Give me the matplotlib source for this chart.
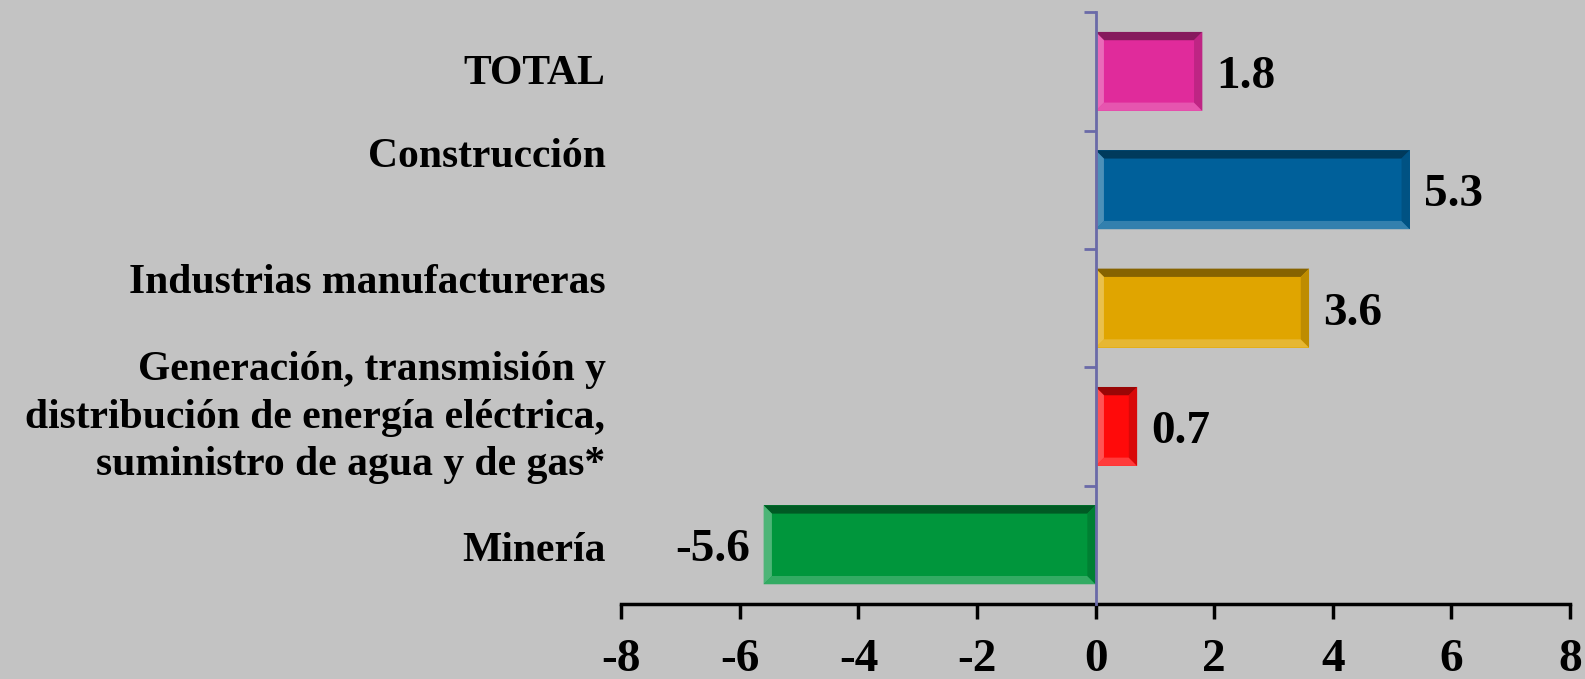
import numpy as np
import matplotlib.pyplot as plt
from matplotlib.patches import Polygon
from matplotlib import transforms
from matplotlib.colors import to_rgb

# Data (bottom to top)
categories = ['Minería',
              'Generación, transmisión y\ndistribución de energía eléctrica,\nsuministro de agua y de gas*',
              'Industrias manufactureras',
              'Construcción',
              'TOTAL']
values = [-5.6, 0.7, 3.6, 5.3, 1.8]
bar_colors = ['#00963C', '#FF0A0A', '#E0A500', '#00609A', '#E02B9B']
label_shift = [-0.055, 0.075, 0.215, 0.275, -0.025]  # category label nudge (data units)
x_ticks = [-8, -6, -4, -2, 0, 2, 4, 6, 8]

bg = '#C3C3C3'
plt.rcParams['font.family'] = ['Liberation Serif', 'DejaVu Serif']
plt.rcParams['font.weight'] = 'bold'


def mix(c, other, t):
    c = np.array(to_rgb(c))
    return tuple(c * (1 - t) + np.array(other) * t)


fig = plt.figure(figsize=(15.85, 6.79), dpi=100, facecolor=bg)
ax = fig.add_axes([0.392, 0.1105, 0.5985, 0.8715])
ax.set_facecolor(bg)

y = np.arange(len(categories))
bars = ax.barh(y, values, height=0.667, color=bar_colors, zorder=2)

# bevel edges, built from each bar's own extents
dx, dy = 0.14, 0.07
for bar, col in zip(bars, bar_colors):
    x0, y0 = bar.get_x(), bar.get_y()
    x1, y1 = x0 + bar.get_width(), y0 + bar.get_height()
    x0, x1 = min(x0, x1), max(x0, x1)
    ddx = min(dx, (x1 - x0) / 2)
    pieces = [
        ([(x0, y1), (x1, y1), (x1 - ddx, y1 - dy), (x0 + ddx, y1 - dy)], mix(col, (0, 0, 0), 0.4)),
        ([(x0, y0), (x1, y0), (x1 - ddx, y0 + dy), (x0 + ddx, y0 + dy)], mix(col, (1, 1, 1), 0.2)),
        ([(x0, y0), (x0, y1), (x0 + ddx, y1 - dy), (x0 + ddx, y0 + dy)], mix(col, (1, 1, 1), 0.3)),
        ([(x1, y0), (x1, y1), (x1 - ddx, y1 - dy), (x1 - ddx, y0 + dy)], mix(col, (0, 0, 0), 0.15)),
    ]
    for pts, c in pieces:
        ax.add_patch(Polygon(pts, closed=True, facecolor=c, edgecolor='none', zorder=3))

# value labels
for yi, v in zip(y, values):
    ax.annotate(f'{v:.1f}', xy=(v, yi), xytext=(10 if v >= 0 else -10, -4),
                textcoords='offset points', ha='left' if v >= 0 else 'right',
                va='center', fontsize=34, fontweight='bold', color='black')

# category labels, right-aligned left of the plot
trans = transforms.blended_transform_factory(fig.transFigure, ax.transData)
for yi, cat, sh in zip(y, categories, label_shift):
    ax.text(0.382, yi + sh, cat, transform=trans, ha='right', va='center',
            fontsize=30, fontweight='bold', linespacing=1.32, clip_on=False)

ax.set_xlim(-8, 8)
ax.set_ylim(-0.5, len(categories) - 0.5)
ax.set_xticks(x_ticks)
ax.set_xticklabels([str(t) for t in x_ticks], fontsize=34, fontweight='bold')
ax.set_yticks(np.arange(-0.5, len(categories), 1.0))
ax.set_yticklabels([])

for s in ['top', 'right']:
    ax.spines[s].set_visible(False)
ax.spines['left'].set_position(('data', 0))
ax.spines['left'].set_color('#6A6AA8')
ax.spines['left'].set_linewidth(2)
ax.spines['left'].set_zorder(4)
ax.spines['bottom'].set_linewidth(2.5)
ax.tick_params(axis='y', direction='out', length=9, width=2, color='#6A6AA8')
ax.tick_params(axis='x', direction='out', length=11, width=2.5, pad=14)

fig.savefig('out.png', dpi=100, facecolor=bg)
